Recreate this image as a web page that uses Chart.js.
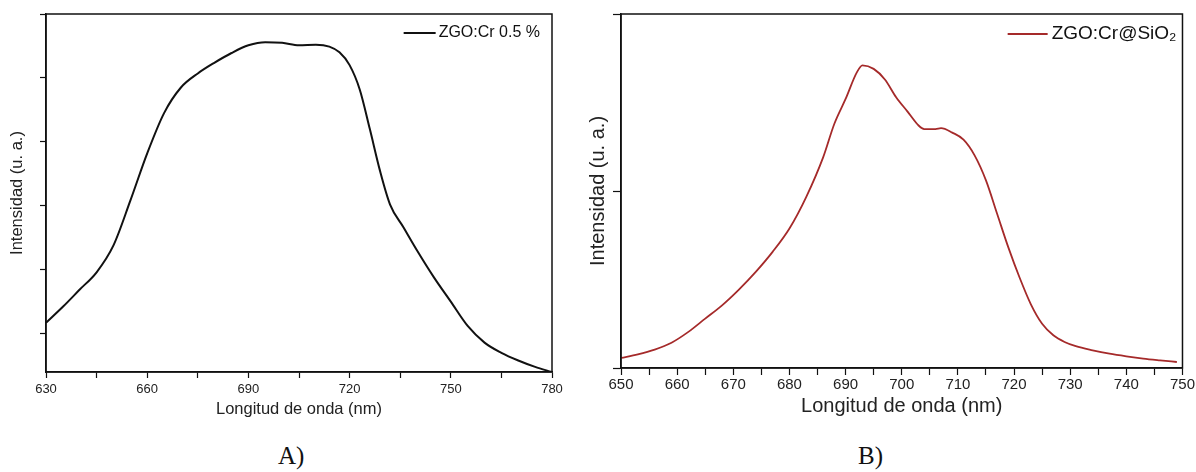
<!DOCTYPE html>
<html>
<head>
<meta charset="utf-8">
<script src="https://cdn.jsdelivr.net/npm/chart.js@4.4.1/dist/chart.umd.min.js"></script>
<style>
  body { margin: 0; background: #fff; width: 1196px; height: 472px; overflow: hidden; position: relative; }
  .panel { position: absolute; top: 0; }
  .letra { position: absolute; top: 442px; font: 25px "Liberation Serif", "Times New Roman", serif; color: #111; }
</style>
</head>
<body>
<div class="panel" style="left:0"><canvas id="graficoA" width="580" height="430"></canvas></div>
<div class="panel" style="left:580px"><canvas id="graficoB" width="616" height="430"></canvas></div>
<div class="letra" style="left:278px">A)</div>
<div class="letra" style="left:858px">B)</div>
<script>
// Espectro A: ZGO:Cr 0.5 %
const longitudA = [630, 635, 640, 645, 650, 655, 660, 665, 670, 675, 680, 685, 690, 695, 700, 705, 710, 714, 717, 720, 723, 726, 729, 732, 736, 740, 745, 750, 755, 760, 765, 770, 775, 780];
const intensidadA = [0.17, 0.42, 0.69, 0.96, 1.38, 2.08, 2.82, 3.45, 3.85, 4.07, 4.24, 4.39, 4.51, 4.56, 4.55, 4.51, 4.52, 4.49, 4.40, 4.20, 3.82, 3.2, 2.55, 2.02, 1.66, 1.3, 0.88, 0.5, 0.12, -0.14, -0.3, -0.42, -0.52, -0.6];
const ticksYA = [0, 1, 2, 3, 4, 5];

// Espectro B: ZGO:Cr@SiO2
const longitudB = [650, 653, 656, 659, 662, 665, 668, 671, 674, 677, 680, 683, 686, 688, 690, 692, 693, 695, 697, 699, 701, 703, 704, 706, 707, 709, 711, 713, 715, 717, 719, 721, 723, 725, 727, 729, 731, 734, 737, 740, 743, 746, 749];
const intensidadB = [0.057, 0.077, 0.104, 0.143, 0.204, 0.279, 0.354, 0.443, 0.543, 0.656, 0.788, 0.967, 1.19, 1.38, 1.52, 1.67, 1.71, 1.69, 1.63, 1.53, 1.45, 1.37, 1.35, 1.35, 1.355, 1.33, 1.29, 1.20, 1.06, 0.87, 0.68, 0.51, 0.36, 0.25, 0.185, 0.147, 0.123, 0.10, 0.081, 0.066, 0.053, 0.043, 0.034];
const ticksYB = [0, 1, 2];

const fuente = '"Liberation Sans", Arial, sans-serif';

// marco completo alrededor del area del grafico
const marco = {
  id: 'marco',
  afterDraw(chart) {
    const { ctx, chartArea: a } = chart;
    ctx.save();
    ctx.strokeStyle = '#111';
    ctx.lineWidth = 1.5;
    ctx.strokeRect(a.left, a.top, a.right - a.left, a.bottom - a.top);
    ctx.restore();
  }
};

// leyenda dentro del area, arriba a la derecha
const leyenda = {
  id: 'leyenda',
  afterDraw(chart, args, opts) {
    const ds = chart.data.datasets[0];
    const { ctx, chartArea: a } = chart;
    const y = a.top + opts.dy;
    ctx.save();
    ctx.font = opts.font;
    const w = ctx.measureText(ds.label).width;
    const xTexto = a.right - opts.derecha - w;
    ctx.strokeStyle = ds.borderColor;
    ctx.lineWidth = ds.borderWidth;
    ctx.beginPath();
    ctx.moveTo(xTexto - opts.gap - opts.largo, y);
    ctx.lineTo(xTexto - opts.gap, y);
    ctx.stroke();
    ctx.fillStyle = '#111';
    ctx.textBaseline = 'middle';
    ctx.fillText(ds.label, xTexto, y);
    ctx.restore();
  }
};

function config(x, y, etiqueta, color, grosor, ejes) {
  return {
    type: 'line',
    data: {
      datasets: [{
        label: etiqueta,
        data: x.map((v, i) => ({ x: v, y: y[i] })),
        borderColor: color,
        borderWidth: grosor,
        pointRadius: 0,
        cubicInterpolationMode: 'monotone',
        fill: false,
      }],
    },
    options: {
      responsive: false,
      animation: false,
      events: [],
      layout: { padding: { top: 14, right: ejes.derecha, left: 0, bottom: 0 } },
      plugins: {
        legend: { display: false },
        tooltip: { enabled: false },
        leyenda: ejes.leyenda,
      },
      scales: {
        x: {
          type: 'linear',
          min: ejes.xMin,
          max: ejes.xMax,
          afterFit: (s) => { s.height = ejes.altoX; },
          grid: { drawOnChartArea: false, drawTicks: true, tickLength: ejes.tickX, color: '#111', tickWidth: 1.2 },
          border: { display: true, color: '#111', width: 1.5 },
          ticks: {
            stepSize: ejes.paso,
            autoSkip: false,
            maxRotation: 0,
            padding: ejes.padTick,
            color: '#222',
            font: { family: fuente, size: ejes.fTick },
            callback: (v) => ((v - ejes.xMin) % ejes.pasoEtiqueta === 0 ? v : ''),
          },
          title: {
            display: true,
            text: 'Longitud de onda (nm)',
            color: '#222',
            font: { family: fuente, size: ejes.fTitulo },
            padding: { top: 0, bottom: ejes.padTituloX },
          },
        },
        y: {
          type: 'linear',
          min: ejes.yMin,
          max: ejes.yMax,
          afterFit: (s) => { s.width = ejes.anchoY; },
          afterBuildTicks: (s) => { s.ticks = ejes.ticksY.map((v) => ({ value: v })); },
          grid: { drawOnChartArea: false, drawTicks: true, tickLength: ejes.tickY, color: '#111', tickWidth: 1.2 },
          border: { display: true, color: '#111', width: 1.5 },
          ticks: { callback: () => '', padding: 0 },
          title: {
            display: true,
            text: 'Intensidad (u. a.)',
            color: '#222',
            font: { family: fuente, size: ejes.fTitulo },
            padding: { top: ejes.padTituloY, bottom: 0 },
          },
        },
      },
    },
    plugins: [marco, leyenda],
  };
}

const grafico_A = new Chart(
  document.getElementById('graficoA'),
  config(longitudA, intensidadA, 'ZGO:Cr 0.5 %', '#111111', 2, {
    xMin: 630, xMax: 780, paso: 15, pasoEtiqueta: 30,
    yMin: -0.6, yMax: 5, ticksY: ticksYA,
    derecha: 28, anchoY: 46, altoX: 58,
    tickX: 6, tickY: 6, padTick: 4,
    fTick: 13, fTitulo: 16.5, padTituloX: 11, padTituloY: 8,
    leyenda: { font: '16px ' + fuente, dy: 19, derecha: 12, gap: 3, largo: 32 },
  })
);

const grafico_B = new Chart(
  document.getElementById('graficoB'),
  config(longitudB, intensidadB, 'ZGO:Cr@SiO\u2082', '#a52a2a', 1.8, {
    xMin: 650, xMax: 750, paso: 5, pasoEtiqueta: 10,
    yMin: 0, yMax: 2, ticksY: ticksYB,
    derecha: 13, anchoY: 41, altoX: 62,
    tickX: 7, tickY: 8, padTick: 1,
    fTick: 15, fTitulo: 20, padTituloX: 12, padTituloY: 6,
    leyenda: { font: '19px ' + fuente, dy: 20, derecha: 6, gap: 4, largo: 40 },
  })
);
</script>
</body>
</html>
